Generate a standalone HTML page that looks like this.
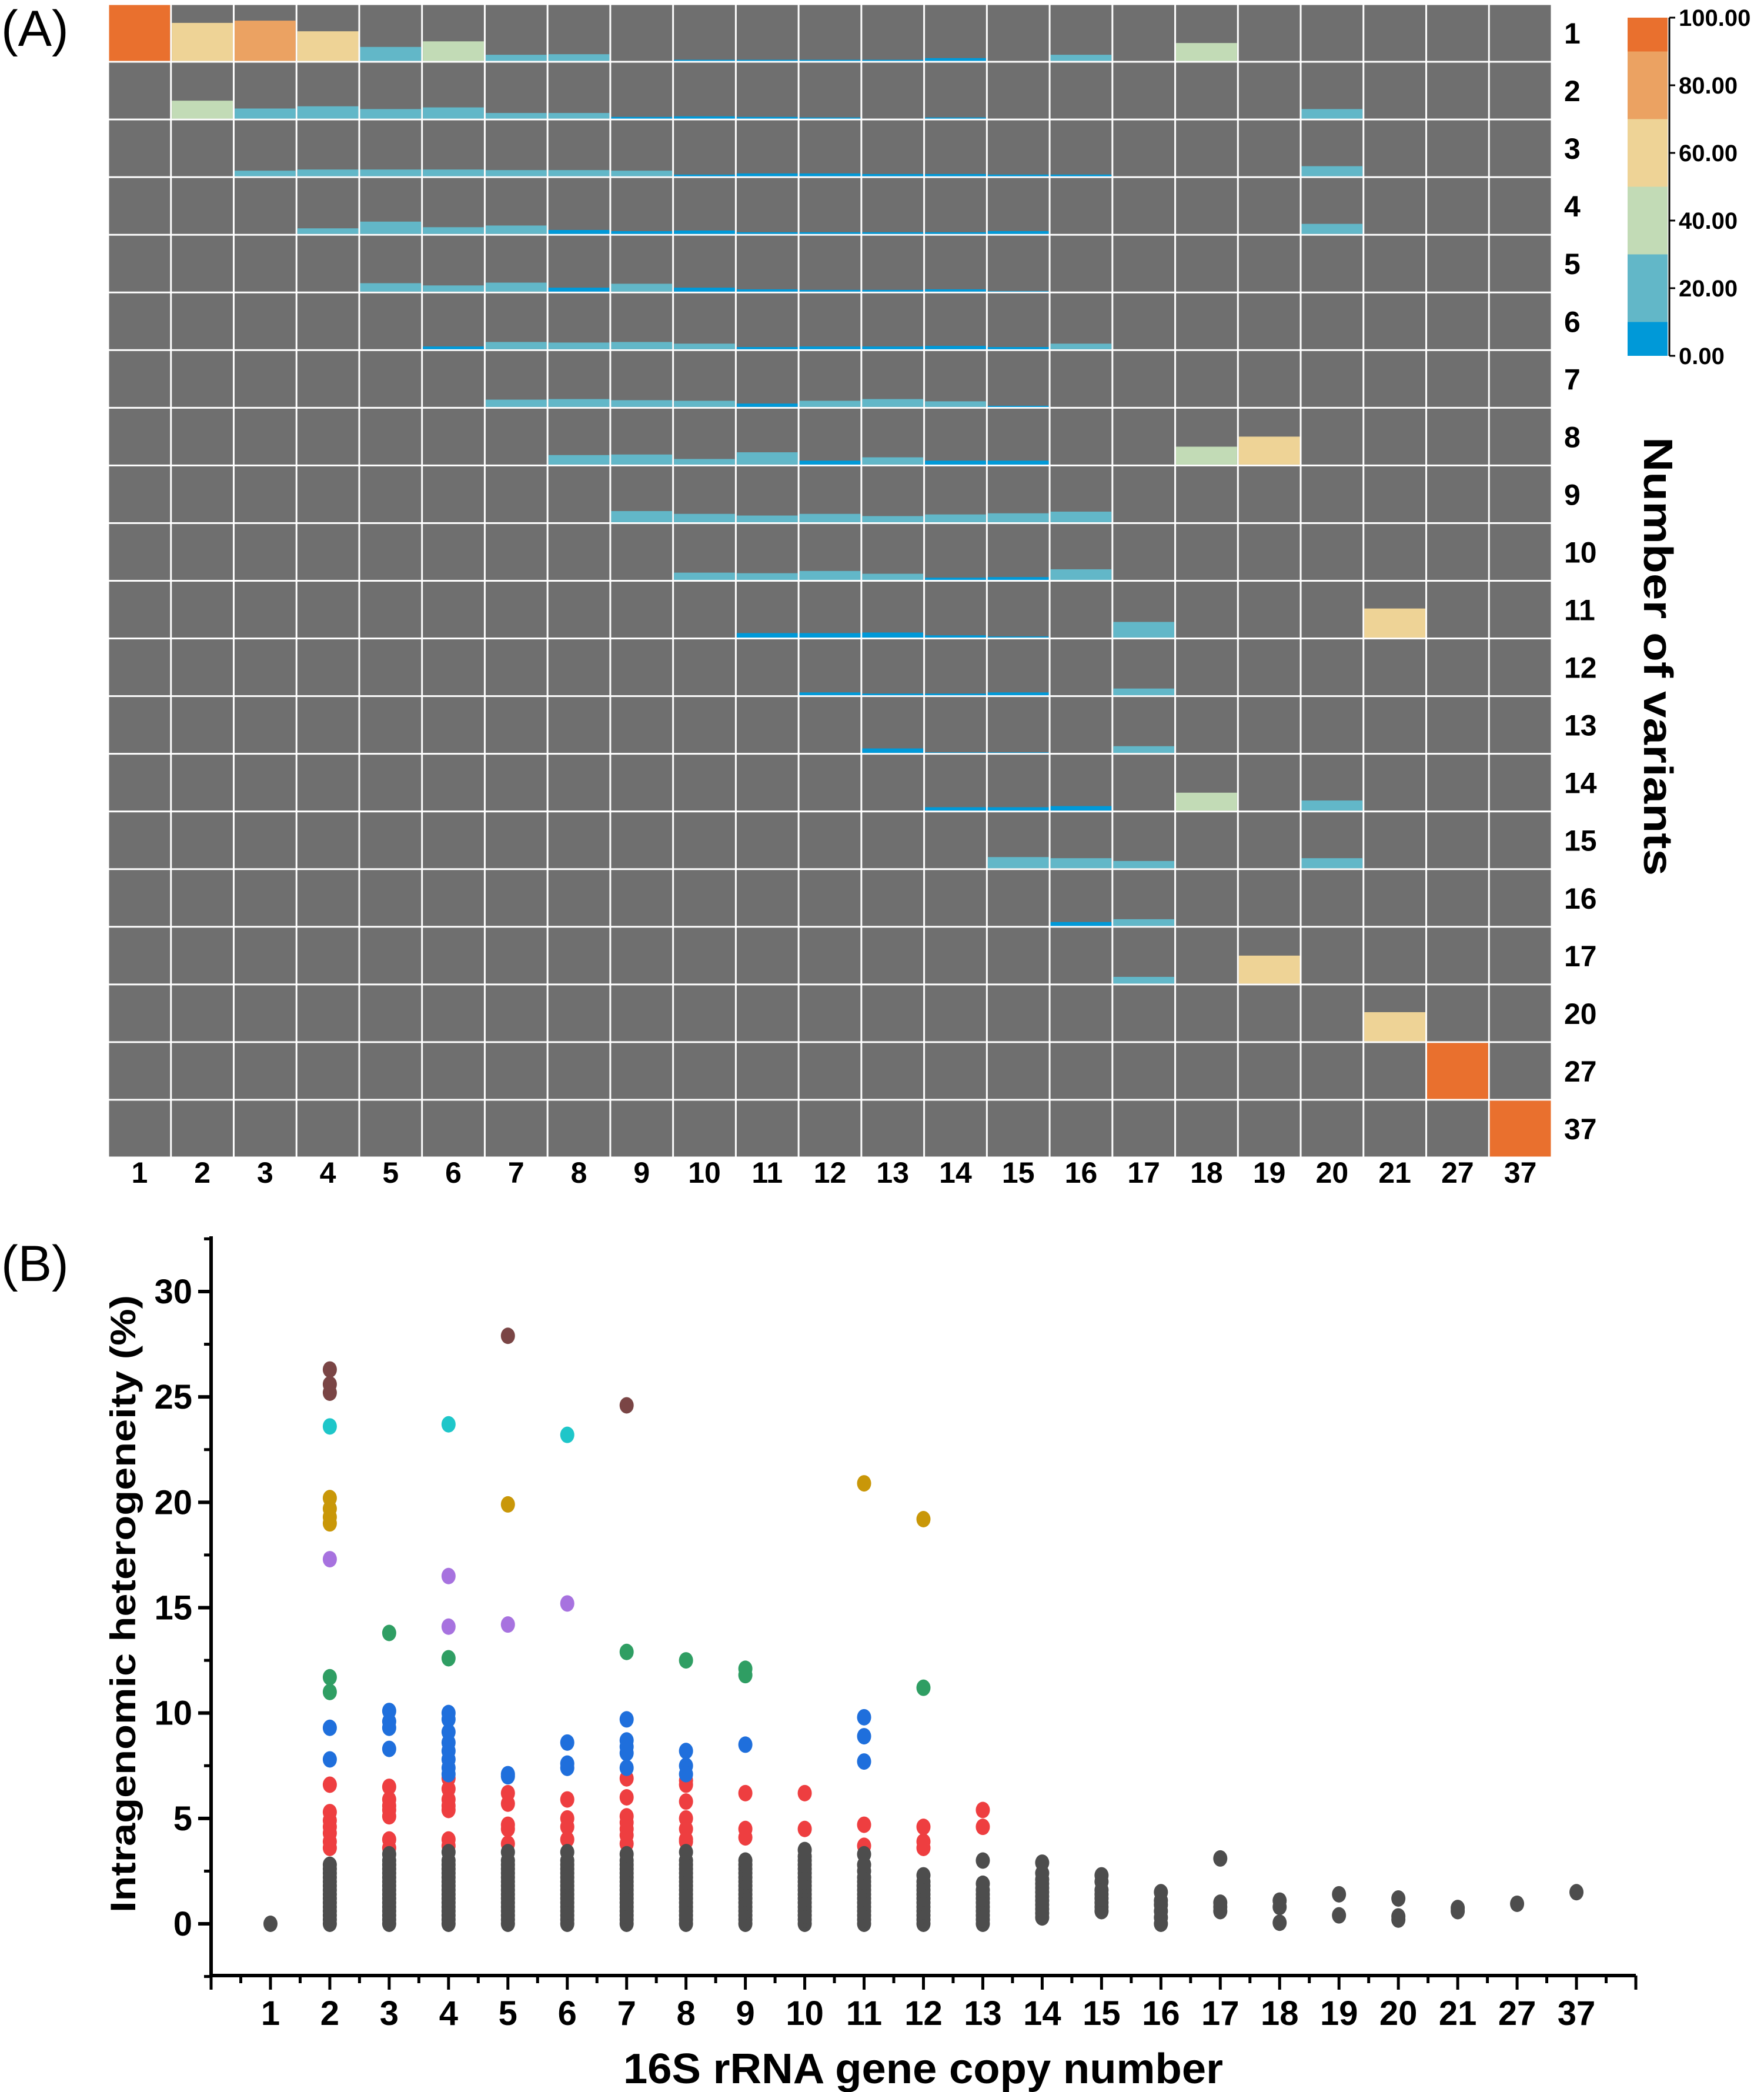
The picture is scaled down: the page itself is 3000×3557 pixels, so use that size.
<!DOCTYPE html>
<html><head><meta charset="utf-8"><style>
html,body{margin:0;padding:0;background:#fff;}
svg{display:block;}
</style></head><body>
<svg id="fig" width="3000" height="3557" viewBox="0 0 3000 3557" xmlns="http://www.w3.org/2000/svg">
<g id="panelA"></g>
<g id="panelB"></g>
</svg>
<script>
// ---------- Panel A data ----------
const colLabels = ["1","2","3","4","5","6","7","8","9","10","11","12","13","14","15","16","17","18","19","20","21","27","37"];
const rowLabels = ["1","2","3","4","5","6","7","8","9","10","11","12","13","14","15","16","17","20","27","37"];
// [columnIndex(1-based), rowIndex(1-based), percentage]
const cellValues = [
[1,1,100],[2,1,68],[3,1,72],[4,1,53],[5,1,25],[6,1,35],[7,1,11],[8,1,12],[10,1,2],[11,1,2],[12,1,2],[13,1,2],[14,1,5],[16,1,11],[18,1,32],
[2,2,32],[3,2,18],[4,2,22],[5,2,17],[6,2,20],[7,2,10],[8,2,10],[9,2,3],[10,2,4],[11,2,3],[12,2,2],[14,2,2],[20,2,17],
[3,3,10],[4,3,12],[5,3,12],[6,3,12],[7,3,11],[8,3,11],[9,3,10],[10,3,3],[11,3,5],[12,3,5],[13,3,4],[14,3,4],[15,3,3],[16,3,3],[20,3,18],
[4,4,10],[5,4,22],[6,4,12],[7,4,15],[8,4,7],[9,4,5],[10,4,6],[11,4,3],[12,4,3],[13,4,3],[14,4,3],[15,4,5],[20,4,18],
[5,5,15],[6,5,11],[7,5,16],[8,5,7],[9,5,14],[10,5,7],[11,5,4],[12,5,3],[13,5,3],[14,5,4],[15,5,1],
[6,6,5],[7,6,13],[8,6,12],[9,6,13],[10,6,10],[11,6,4],[12,6,5],[13,6,5],[14,6,6],[15,6,4],[16,6,10],
[7,7,13],[8,7,14],[9,7,12],[10,7,11],[11,7,6],[12,7,11],[13,7,14],[14,7,10],[15,7,2],
[8,8,17],[9,8,18],[10,8,10],[11,8,22],[12,8,7],[13,8,13],[14,8,7],[15,8,7],[18,8,32],[19,8,50],
[9,9,20],[10,9,15],[11,9,12],[12,9,15],[13,9,11],[14,9,14],[15,9,16],[16,9,19],
[10,10,13],[11,10,12],[12,10,16],[13,10,11],[14,10,4],[15,10,5],[16,10,19],
[11,11,8],[12,11,8],[13,11,9],[14,11,4],[15,11,2],[17,11,28],[21,11,52],
[12,12,5],[13,12,3],[14,12,3],[15,12,5],[17,12,12],
[13,13,8],[14,13,1],[15,13,1],[17,13,12],
[14,14,6],[15,14,6],[16,14,8],[18,14,32],[20,14,18],
[15,15,20],[16,15,18],[17,15,13],[20,15,18],
[16,16,7],[17,16,12],
[17,17,12],[19,17,50],
[21,18,52],
[22,19,100],
[23,20,100]
];
const cbarTicks = [0,20,40,60,80,100];
const cbarBands = [0,10,30,50,70,90,100];

// ---------- Panel B data ----------
const xCats = ["1","2","3","4","5","6","7","8","9","10","11","12","13","14","15","16","17","18","19","20","21","27","37"];
const yTicks = [0,5,10,15,20,25,30];
// each series: [categoryIndex(1-based), value]
const grayPts = [
[1,0],
[2,0],[2,0.2],[2,0.4],[2,0.6],[2,0.8],[2,1.0],[2,1.2],[2,1.4],[2,1.6],[2,1.8],[2,2.0],[2,2.2],[2,2.4],[2,2.6],[2,2.8],
[3,0],[3,0.2],[3,0.4],[3,0.6],[3,0.8],[3,1.0],[3,1.2],[3,1.4],[3,1.6],[3,1.8],[3,2.0],[3,2.2],[3,2.4],[3,2.6],[3,2.8],[3,3.0],[3,3.3],
[4,0],[4,0.2],[4,0.4],[4,0.6],[4,0.8],[4,1.0],[4,1.2],[4,1.4],[4,1.6],[4,1.8],[4,2.0],[4,2.2],[4,2.4],[4,2.6],[4,2.8],[4,3.0],[4,3.4],
[5,0],[5,0.2],[5,0.4],[5,0.6],[5,0.8],[5,1.0],[5,1.2],[5,1.4],[5,1.6],[5,1.8],[5,2.0],[5,2.2],[5,2.4],[5,2.6],[5,2.8],[5,3.0],[5,3.4],
[6,0],[6,0.2],[6,0.4],[6,0.6],[6,0.8],[6,1.0],[6,1.2],[6,1.4],[6,1.6],[6,1.8],[6,2.0],[6,2.2],[6,2.4],[6,2.6],[6,2.8],[6,3.0],[6,3.4],
[7,0],[7,0.2],[7,0.4],[7,0.6],[7,0.8],[7,1.0],[7,1.2],[7,1.4],[7,1.6],[7,1.8],[7,2.0],[7,2.2],[7,2.4],[7,2.6],[7,2.8],[7,3.0],[7,3.3],
[8,0],[8,0.2],[8,0.4],[8,0.6],[8,0.8],[8,1.0],[8,1.2],[8,1.4],[8,1.6],[8,1.8],[8,2.0],[8,2.2],[8,2.4],[8,2.6],[8,2.8],[8,3.0],[8,3.4],
[9,0],[9,0.2],[9,0.4],[9,0.6],[9,0.8],[9,1.0],[9,1.2],[9,1.4],[9,1.6],[9,1.8],[9,2.0],[9,2.2],[9,2.4],[9,2.6],[9,2.8],[9,3.0],
[10,0],[10,0.2],[10,0.4],[10,0.6],[10,0.8],[10,1.0],[10,1.2],[10,1.4],[10,1.6],[10,1.8],[10,2.0],[10,2.2],[10,2.4],[10,2.6],[10,2.8],[10,3.0],[10,3.2],[10,3.5],
[11,0],[11,0.2],[11,0.4],[11,0.6],[11,0.8],[11,1.0],[11,1.2],[11,1.4],[11,1.6],[11,1.8],[11,2.0],[11,2.2],[11,2.5],[11,2.8],[11,3.3],
[12,0],[12,0.2],[12,0.4],[12,0.6],[12,0.8],[12,1.0],[12,1.2],[12,1.4],[12,1.6],[12,1.8],[12,2.0],[12,2.3],
[13,0],[13,0.2],[13,0.4],[13,0.6],[13,0.8],[13,1.0],[13,1.2],[13,1.4],[13,1.6],[13,1.9],[13,3.0],
[14,0.3],[14,0.5],[14,0.7],[14,0.9],[14,1.1],[14,1.3],[14,1.5],[14,1.7],[14,1.9],[14,2.1],[14,2.4],[14,2.9],
[15,0.6],[15,0.8],[15,1.0],[15,1.2],[15,1.4],[15,1.6],[15,2.0],[15,2.3],
[16,0],[16,0.3],[16,0.6],[16,0.9],[16,1.1],[16,1.5],
[17,0.6],[17,0.8],[17,1.0],[17,3.1],
[18,0.05],[18,0.8],[18,1.1],
[19,0.4],[19,1.4],
[20,0.2],[20,0.35],[20,1.2],
[21,0.6],[21,0.75],
[22,0.95],
[23,1.5]
];
const redPts = [
[2,6.6],[2,5.3],[2,4.9],[2,4.6],[2,4.3],[2,3.9],[2,3.6],
[3,6.5],[3,5.9],[3,5.6],[3,5.4],[3,5.1],[3,4.0],[3,3.6],
[4,6.9],[4,6.4],[4,5.9],[4,5.6],[4,5.4],[4,4.0],[4,3.7],
[5,6.2],[5,5.7],[5,4.7],[5,4.5],[5,3.8],
[6,5.9],[6,5.0],[6,4.6],[6,4.0],
[7,6.9],[7,6.0],[7,5.1],[7,4.8],[7,4.5],[7,4.2],[7,3.8],
[8,6.8],[8,6.6],[8,5.8],[8,5.0],[8,4.5],[8,4.0],[8,3.9],
[9,6.2],[9,4.5],[9,4.1],
[10,6.2],[10,4.5],
[11,4.7],[11,3.7],
[12,4.6],[12,3.9],[12,3.6],
[13,5.4],[13,4.6]
];
const bluePts = [
[2,9.3],[2,7.8],
[3,10.1],[3,9.6],[3,9.3],[3,8.3],
[4,10.0],[4,9.7],[4,9.1],[4,8.6],[4,8.2],[4,7.8],[4,7.4],[4,7.1],
[5,7.1],[5,7.0],
[6,8.6],[6,7.6],[6,7.4],
[7,9.7],[7,8.7],[7,8.4],[7,8.1],[7,7.4],
[8,8.2],[8,7.5],[8,7.1],
[9,8.5],
[11,9.8],[11,8.9],[11,7.7]
];
const greenPts = [[2,11.7],[2,11.0],[3,13.8],[4,12.6],[7,12.9],[8,12.5],[9,12.1],[9,11.8],[12,11.2]];
const purplePts = [[2,17.3],[4,16.5],[4,14.1],[5,14.2],[6,15.2]];
const goldPts = [[2,20.2],[2,19.7],[2,19.3],[2,19.0],[5,19.9],[11,20.9],[12,19.2]];
const cyanPts = [[2,23.6],[4,23.7],[6,23.2]];
const brownPts = [[2,26.3],[2,25.6],[2,25.2],[5,27.9],[7,24.6]];

const NS = "http://www.w3.org/2000/svg";
function mk(tag, attrs, parent){
  const e = document.createElementNS(NS, tag);
  for (const k in attrs) e.setAttribute(k, attrs[k]);
  parent.appendChild(e);
  return e;
}
const FONT = '"Liberation Sans", Arial, sans-serif';
const NARROW = '"Liberation Sans Narrow", "Liberation Sans", Arial, sans-serif';

// ---------- Panel A ----------
const A = document.getElementById('panelA');
const hmL = 184, hmR = 2639, hmT = 7, hmB = 1968;
const cw = (hmR - hmL) / colLabels.length, rh = (hmB - hmT) / rowLabels.length;
function colX(i){ return hmL + (i - 1) * cw; }
function rowY(j){ return hmT + (j - 1) * rh; }
function binColor(v){
  if (v < 10) return "#0099d8";
  if (v < 30) return "#62b7c8";
  if (v < 50) return "#c2dbb6";
  if (v < 70) return "#eed396";
  if (v < 90) return "#eba262";
  return "#e9702e";
}
let bg = mk('rect', {x:hmL-2, y:hmT-2, width:hmR-hmL+4, height:hmB-hmT+4, fill:'#ffffff'}, A);


for (let j = 1; j <= rowLabels.length; j++){
  for (let i = 1; i <= colLabels.length; i++){
    const r = mk('rect', {x:colX(i)+1.5, y:rowY(j)+1.5, width:cw-3, height:rh-3, fill:'#6f6f6f'}, A);
    
    
  }
}
cellValues.forEach(function(c){
  const i = c[0], j = c[1], v = c[2];
  const h = (rh - 3) * v / 100;
  const r = mk('rect', {x:colX(i)+1.5, y:rowY(j)+rh-1.5-h, width:cw-3, height:h, fill:binColor(v)}, A);
  
  
});
colLabels.forEach(function(l, k){
  const t = mk('text', {x:colX(k+1)+cw/2, y:2011, 'text-anchor':'middle', 'font-family':FONT, 'font-weight':'bold', 'font-size':50, fill:'#000'}, A);
  t.textContent = l;
  
  
});
rowLabels.forEach(function(l, k){
  const t = mk('text', {x:2660, y:rowY(k+1)+rh/2+18, 'text-anchor':'start', 'font-family':FONT, 'font-weight':'bold', 'font-size':50, fill:'#000'}, A);
  t.textContent = l;
  
  
});
// colorbar
const cbL = 2768, cbR = 2836, cbT = 30, cbB = 605;
function cbY(v){ return cbB - (cbB - cbT) * v / 100; }
for (let k = 0; k < cbarBands.length - 1; k++){
  const lo = cbarBands[k], hi = cbarBands[k+1];
  const r = mk('rect', {x:cbL, y:cbY(hi), width:cbR-cbL, height:cbY(lo)-cbY(hi), fill:binColor((lo+hi)/2)}, A);
  
  
}
let cbAx = mk('line', {x1:cbR+3, y1:cbT, x2:cbR+3, y2:cbB, stroke:'#000', 'stroke-width':3}, A);


cbarTicks.forEach(function(v){
  const y = cbY(v);
  const tk = mk('line', {x1:cbR+3, y1:y, x2:cbR+13, y2:y, stroke:'#000', 'stroke-width':3}, A);
  
  
  const t = mk('text', {x:2855, y:y+14, 'font-family':FONT, 'font-weight':'bold', 'font-size':40, fill:'#000'}, A);
  t.textContent = v.toFixed(2);
  
  
});
let nv = mk('text', {x:0, y:0, transform:'translate(2796,1116) rotate(90)', 'text-anchor':'middle', 'font-family':FONT, 'font-weight':'bold', 'font-size':70, textLength:746, lengthAdjust:'spacingAndGlyphs', fill:'#000'}, A);
nv.textContent = 'Number of variants';


let la = mk('text', {x:2, y:78, 'font-family':FONT, 'font-size':86, fill:'#000'}, A);
la.textContent = '(A)';



// ---------- Panel B ----------
const B = document.getElementById('panelB');
const axL = 359, axR = 2782, axT = 2102, axB = 3359;
const y0px = 3271, yPer = (3271 - 2196) / 30;
const xStep = (axR - axL) / 24;
function xPos(i){ return axL + i * xStep; }
function yPos(v){ return y0px - v * yPer; }
let yAx = mk('line', {x1:axL, y1:axT, x2:axL, y2:axB+3, stroke:'#000', 'stroke-width':6}, B);


let xAx = mk('line', {x1:axL-3, y1:axB, x2:axR, y2:axB, stroke:'#000', 'stroke-width':6}, B);


yTicks.forEach(function(v){
  const y = yPos(v);
  const tk = mk('line', {x1:axL-22, y1:y, x2:axL, y2:y, stroke:'#000', 'stroke-width':6}, B);
  
  
  const mt = mk('line', {x1:axL-12, y1:yPos(v+2.5), x2:axL, y2:yPos(v+2.5), stroke:'#000', 'stroke-width':5}, B);
  
  
  const t = mk('text', {x:327, y:y+20, 'text-anchor':'end', 'font-family':NARROW, 'font-weight':'bold', 'font-size':58, fill:'#000'}, B);
  t.textContent = String(v);
  
  
});
let mtb = mk('line', {x1:axL-12, y1:yPos(-2.5), x2:axL, y2:yPos(-2.5), stroke:'#000', 'stroke-width':5}, B);


for (let i = 0; i <= 24; i++){
  const tk = mk('line', {x1:xPos(i), y1:axB, x2:xPos(i), y2:axB+24, stroke:'#000', 'stroke-width':5}, B);
  
  
  if (i < 24){
    const mt = mk('line', {x1:xPos(i+0.5), y1:axB, x2:xPos(i+0.5), y2:axB+13, stroke:'#000', 'stroke-width':5}, B);
    
    
  }
}
xCats.forEach(function(l, k){
  const t = mk('text', {x:xPos(k+1), y:3443, 'text-anchor':'middle', 'font-family':NARROW, 'font-weight':'bold', 'font-size':58, fill:'#000'}, B);
  t.textContent = l;
  
  
});
let xt = mk('text', {x:1570, y:3542, 'text-anchor':'middle', 'font-family':NARROW, 'font-weight':'bold', 'font-size':72, textLength:1020, lengthAdjust:'spacingAndGlyphs', fill:'#000'}, B);
xt.textContent = '16S rRNA gene copy number';


let yt = mk('text', {x:0, y:0, transform:'translate(230,2727) rotate(-90)', 'text-anchor':'middle', 'font-family':FONT, 'font-weight':'bold', 'font-size':60, textLength:1050, lengthAdjust:'spacingAndGlyphs', fill:'#000'}, B);
yt.textContent = 'Intragenomic heterogeneity (%)';


let lb = mk('text', {x:2, y:2178, 'font-family':FONT, 'font-size':86, fill:'#000'}, B);
lb.textContent = '(B)';



function drawSeries(pts, color, name){
  const g = mk('g', {}, B);
  
  
  pts.forEach(function(p){
    const c = mk('ellipse', {cx:xPos(p[0]), cy:yPos(p[1]), rx:12, ry:14, fill:color}, g);
    
    
  });
}
drawSeries(redPts, '#ee3e40', 'series-red');
drawSeries(grayPts, '#4d4d4d', 'series-gray');
drawSeries(bluePts, '#1f6fdc', 'series-blue');
drawSeries(greenPts, '#2f9e63', 'series-green');
drawSeries(purplePts, '#a772df', 'series-purple');
drawSeries(goldPts, '#c99708', 'series-gold');
drawSeries(cyanPts, '#1ec6c9', 'series-cyan');
drawSeries(brownPts, '#7a4545', 'series-brown');
</script>
</body></html>
